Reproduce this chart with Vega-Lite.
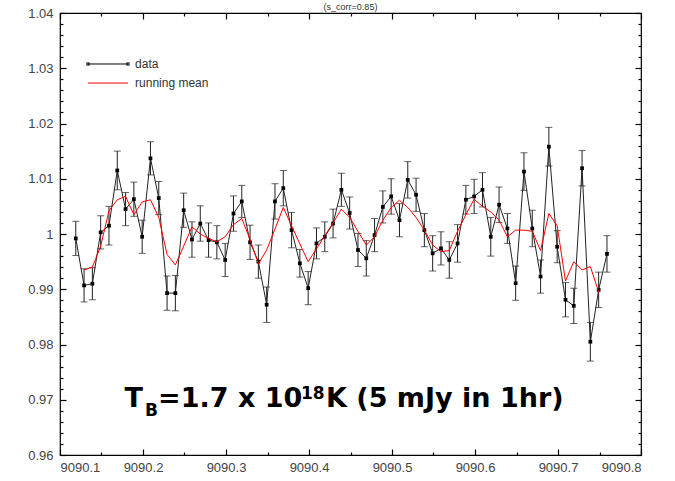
{
  "$schema": "https://vega.github.io/schema/vega-lite/v6.json",
  "width": 581,
  "height": 442,
  "autosize": {"type": "none"},
  "padding": {"left": 60, "top": 13, "right": 34, "bottom": 26},
  "background": "white",
  "title": {"text": "(s_corr=0.85)", "fontSize": 9, "font": "Liberation Sans", "fontWeight": "normal", "color": "#333", "offset": 1, "dy": 6, "anchor": "middle"},
  "config": {
    "view": {"stroke": "#000", "strokeWidth": 1.2},
    "axis": {"domain": false, "grid": false, "title": null, "labelFont": "Liberation Sans", "labelFontSize": 13, "labelColor": "#444", "tickColor": "#000", "tickWidth": 1.2, "ticks": true, "zindex": 1}
  },
  "datasets": {
    "obs": [
      {"x": 9090.119, "y": 0.9992, "e": 0.0031, "m": null},
      {"x": 9090.129, "y": 0.9907, "e": 0.0030, "m": 0.9935},
      {"x": 9090.139, "y": 0.9910, "e": 0.0029, "m": 0.9940},
      {"x": 9090.149, "y": 1.0003, "e": 0.0030, "m": 0.9978},
      {"x": 9090.159, "y": 1.0015, "e": 0.0035, "m": 1.0042},
      {"x": 9090.169, "y": 1.0115, "e": 0.0035, "m": 1.0062},
      {"x": 9090.179, "y": 1.0045, "e": 0.0030, "m": 1.0068},
      {"x": 9090.189, "y": 1.0063, "e": 0.0031, "m": 1.0035},
      {"x": 9090.199, "y": 0.9995, "e": 0.0030, "m": 1.0058},
      {"x": 9090.209, "y": 1.0137, "e": 0.0030, "m": 1.0062},
      {"x": 9090.219, "y": 1.0065, "e": 0.0030, "m": 1.0030},
      {"x": 9090.229, "y": 0.9893, "e": 0.0031, "m": 0.9963},
      {"x": 9090.239, "y": 0.9893, "e": 0.0032, "m": 0.9944},
      {"x": 9090.249, "y": 1.0043, "e": 0.0031, "m": 0.9978},
      {"x": 9090.259, "y": 0.9990, "e": 0.0032, "m": 1.0013},
      {"x": 9090.269, "y": 1.0019, "e": 0.0032, "m": 1.0000},
      {"x": 9090.279, "y": 0.9989, "e": 0.0031, "m": 0.9992},
      {"x": 9090.289, "y": 0.9985, "e": 0.0030, "m": 0.9986},
      {"x": 9090.299, "y": 0.9953, "e": 0.0030, "m": 0.9995},
      {"x": 9090.309, "y": 1.0037, "e": 0.0032, "m": 1.0017},
      {"x": 9090.319, "y": 1.0059, "e": 0.0029, "m": 1.0028},
      {"x": 9090.329, "y": 0.9985, "e": 0.0031, "m": 0.9990},
      {"x": 9090.339, "y": 0.9950, "e": 0.0030, "m": 0.9946},
      {"x": 9090.349, "y": 0.9872, "e": 0.0032, "m": 0.9971},
      {"x": 9090.359, "y": 1.0059, "e": 0.0032, "m": 1.0009},
      {"x": 9090.369, "y": 1.0083, "e": 0.0032, "m": 1.0048},
      {"x": 9090.379, "y": 1.0007, "e": 0.0032, "m": 1.0015},
      {"x": 9090.389, "y": 0.9947, "e": 0.0025, "m": 0.9982},
      {"x": 9090.399, "y": 0.9902, "e": 0.0030, "m": 0.9950},
      {"x": 9090.409, "y": 0.9983, "e": 0.0028, "m": 0.9973},
      {"x": 9090.419, "y": 0.9995, "e": 0.0027, "m": 0.9997},
      {"x": 9090.429, "y": 1.0019, "e": 0.0026, "m": 1.0020},
      {"x": 9090.439, "y": 1.0080, "e": 0.0030, "m": 1.0045},
      {"x": 9090.449, "y": 1.0038, "e": 0.0029, "m": 1.0030},
      {"x": 9090.459, "y": 0.9971, "e": 0.0030, "m": 1.0005},
      {"x": 9090.469, "y": 0.9956, "e": 0.0032, "m": 0.9980},
      {"x": 9090.479, "y": 0.9998, "e": 0.0030, "m": 0.9995},
      {"x": 9090.489, "y": 1.0049, "e": 0.0029, "m": 1.0025},
      {"x": 9090.499, "y": 1.0068, "e": 0.0032, "m": 1.0048},
      {"x": 9090.509, "y": 1.0025, "e": 0.0030, "m": 1.0061},
      {"x": 9090.519, "y": 1.0098, "e": 0.0033, "m": 1.0048},
      {"x": 9090.529, "y": 1.0071, "e": 0.0030, "m": 1.0030},
      {"x": 9090.539, "y": 1.0007, "e": 0.0030, "m": 1.0007},
      {"x": 9090.549, "y": 0.9965, "e": 0.0032, "m": 0.9980},
      {"x": 9090.559, "y": 0.9974, "e": 0.0030, "m": 0.9968},
      {"x": 9090.569, "y": 0.9953, "e": 0.0033, "m": 0.9970},
      {"x": 9090.579, "y": 0.9983, "e": 0.0034, "m": 1.0005},
      {"x": 9090.589, "y": 1.0062, "e": 0.0026, "m": 1.0035},
      {"x": 9090.599, "y": 1.0068, "e": 0.0031, "m": 1.0063},
      {"x": 9090.609, "y": 1.0080, "e": 0.0031, "m": 1.0050},
      {"x": 9090.619, "y": 0.9995, "e": 0.0035, "m": 1.0040},
      {"x": 9090.629, "y": 1.0053, "e": 0.0032, "m": 1.0025},
      {"x": 9090.639, "y": 1.0010, "e": 0.0027, "m": 0.9995},
      {"x": 9090.649, "y": 0.9911, "e": 0.0031, "m": 1.0007},
      {"x": 9090.659, "y": 1.0113, "e": 0.0034, "m": 1.0007},
      {"x": 9090.669, "y": 1.0010, "e": 0.0033, "m": 1.0005},
      {"x": 9090.679, "y": 0.9923, "e": 0.0030, "m": 0.9970},
      {"x": 9090.689, "y": 1.0158, "e": 0.0035, "m": 1.0037},
      {"x": 9090.699, "y": 0.9977, "e": 0.0029, "m": 1.0015},
      {"x": 9090.709, "y": 0.9881, "e": 0.0031, "m": 0.9915},
      {"x": 9090.719, "y": 0.9870, "e": 0.0032, "m": 0.9950},
      {"x": 9090.729, "y": 1.0119, "e": 0.0032, "m": 0.9935},
      {"x": 9090.739, "y": 0.9805, "e": 0.0035, "m": 0.9941},
      {"x": 9090.749, "y": 0.9899, "e": 0.0032, "m": 0.9895},
      {"x": 9090.759, "y": 0.9964, "e": 0.0033, "m": null}
    ],
    "key": [
      {"x1": 9090.1337, "x2": 9090.1819, "tx": 9090.1904, "y": 1.03077, "label": "data"},
      {"x1": 9090.1337, "x2": 9090.1819, "tx": 9090.1904, "y": 1.02733, "label": "running mean"}
    ],
    "big": [
      {"x": 9090.1777, "y": 0.96869, "t": "T"},
      {"x": 9090.2181, "y": 0.96869, "t": "=1.7 x 10"},
      {"x": 9090.4205, "y": 0.96869, "t": "K (5 mJy in 1hr)"}
    ],
    "small": [
      {"x": 9090.2024, "y": 0.96706, "t": "B"},
      {"x": 9090.3904, "y": 0.97005, "t": "18"}
    ]
  },
  "layer": [
    {
      "data": {"name": "obs"},
      "mark": {"type": "errorbar", "ticks": true, "size": 7, "thickness": 1, "color": "#222"},
      "encoding": {
        "x": {"field": "x", "type": "quantitative", "title": null, "scale": {"domain": [9090.1, 9090.8], "nice": false, "zero": false},
          "axis": {"orient": "bottom", "title": null, "zindex": 1, "values": [9090.1, 9090.15, 9090.2, 9090.25, 9090.3, 9090.35, 9090.4, 9090.45, 9090.5, 9090.55, 9090.6, 9090.65, 9090.7, 9090.75, 9090.8],
            "labelExpr": "abs(datum.value*10 - round(datum.value*10)) < 0.001 ? format(datum.value, '.1f') : ''",
            "tickSize": {"condition": {"test": "abs(datum.value*10 - round(datum.value*10)) < 0.001", "value": -6}, "value": -3},
            "labelPadding": 12, "labelFontSize": 13}},
        "y": {"field": "y", "type": "quantitative", "title": null, "scale": {"domain": [0.96, 1.04], "nice": false, "zero": false},
          "axis": {"orient": "left", "title": null, "zindex": 1, "values": [0.96,0.962,0.964,0.966,0.968,0.97,0.972,0.974,0.976,0.978,0.98,0.982,0.984,0.986,0.988,0.99,0.992,0.994,0.996,0.998,1,1.002,1.004,1.006,1.008,1.01,1.012,1.014,1.016,1.018,1.02,1.022,1.024,1.026,1.028,1.03,1.032,1.034,1.036,1.038,1.04],
            "labelExpr": "abs(datum.value*100 - round(datum.value*100)) < 0.001 ? format(datum.value, '~g') : ''",
            "tickSize": {"condition": {"test": "abs(datum.value*100 - round(datum.value*100)) < 0.001", "value": -6}, "value": -3},
            "labelPadding": 13, "labelFontSize": 13}},
        "yError": {"field": "e"}
      }
    },
    {
      "data": {"name": "obs"},
      "mark": {"type": "point", "opacity": 0},
      "encoding": {
        "x": {"field": "x", "type": "quantitative",
          "axis": {"orient": "top", "title": null, "zindex": 1, "labels": false, "values": [9090.1, 9090.15, 9090.2, 9090.25, 9090.3, 9090.35, 9090.4, 9090.45, 9090.5, 9090.55, 9090.6, 9090.65, 9090.7, 9090.75, 9090.8],
            "tickSize": {"condition": {"test": "abs(datum.value*10 - round(datum.value*10)) < 0.001", "value": -6}, "value": -3}}},
        "y": {"field": "y", "type": "quantitative",
          "axis": {"orient": "right", "title": null, "zindex": 1, "labels": false, "values": [0.96,0.962,0.964,0.966,0.968,0.97,0.972,0.974,0.976,0.978,0.98,0.982,0.984,0.986,0.988,0.99,0.992,0.994,0.996,0.998,1,1.002,1.004,1.006,1.008,1.01,1.012,1.014,1.016,1.018,1.02,1.022,1.024,1.026,1.028,1.03,1.032,1.034,1.036,1.038,1.04],
            "tickSize": {"condition": {"test": "abs(datum.value*100 - round(datum.value*100)) < 0.001", "value": -6}, "value": -3}}}
      }
    },
    {
      "data": {"name": "obs"},
      "mark": {"type": "line", "color": "#222", "strokeWidth": 1},
      "encoding": {
        "x": {"field": "x", "type": "quantitative", "axis": null},
        "y": {"field": "y", "type": "quantitative", "axis": null}
      }
    },
    {
      "data": {"name": "obs"},
      "mark": {"type": "square", "filled": true, "color": "#000", "size": 14, "opacity": 1},
      "encoding": {
        "x": {"field": "x", "type": "quantitative", "axis": null},
        "y": {"field": "y", "type": "quantitative", "axis": null}
      }
    },
    {
      "data": {"name": "obs"},
      "transform": [{"filter": "datum.m != null"}],
      "mark": {"type": "line", "color": "#ff0000", "strokeWidth": 1},
      "encoding": {
        "x": {"field": "x", "type": "quantitative", "axis": null},
        "y": {"field": "m", "type": "quantitative", "axis": null}
      }
    },
    {
      "data": {"name": "key"},
      "mark": {"type": "rule", "strokeWidth": 1},
      "encoding": {
        "x": {"field": "x1", "type": "quantitative", "axis": null},
        "x2": {"field": "x2"},
        "y": {"field": "y", "type": "quantitative", "axis": null},
        "color": {"field": "label", "type": "nominal", "scale": {"domain": ["data", "running mean"], "range": ["#000", "#ff0000"]}, "legend": null}
      }
    },
    {
      "data": {"name": "key"},
      "transform": [{"filter": "datum.label == 'data'"}],
      "layer": [
        {"mark": {"type": "square", "filled": true, "color": "#000", "size": 12},
         "encoding": {"x": {"field": "x1", "type": "quantitative", "axis": null}, "y": {"field": "y", "type": "quantitative", "axis": null}}},
        {"mark": {"type": "square", "filled": true, "color": "#000", "size": 12},
         "encoding": {"x": {"field": "x2", "type": "quantitative", "axis": null}, "y": {"field": "y", "type": "quantitative", "axis": null}}}
      ]
    },
    {
      "data": {"name": "key"},
      "mark": {"type": "text", "align": "left", "baseline": "middle", "font": "Liberation Sans", "fontSize": 12, "color": "#333"},
      "encoding": {
        "x": {"field": "tx", "type": "quantitative", "axis": null},
        "y": {"field": "y", "type": "quantitative", "axis": null},
        "text": {"field": "label"}
      }
    },
    {
      "data": {"name": "big"},
      "mark": {"type": "text", "align": "left", "baseline": "alphabetic", "font": "DejaVu Sans", "fontWeight": "bold", "fontSize": 27, "color": "#000"},
      "encoding": {
        "x": {"field": "x", "type": "quantitative", "axis": null},
        "y": {"field": "y", "type": "quantitative", "axis": null},
        "text": {"field": "t"}
      }
    },
    {
      "data": {"name": "small"},
      "mark": {"type": "text", "align": "left", "baseline": "alphabetic", "font": "DejaVu Sans", "fontWeight": "bold", "fontSize": 17, "color": "#000"},
      "encoding": {
        "x": {"field": "x", "type": "quantitative", "axis": null},
        "y": {"field": "y", "type": "quantitative", "axis": null},
        "text": {"field": "t"}
      }
    }
  ],
  "resolve": {"axis": {"x": "independent", "y": "independent"}}
}
